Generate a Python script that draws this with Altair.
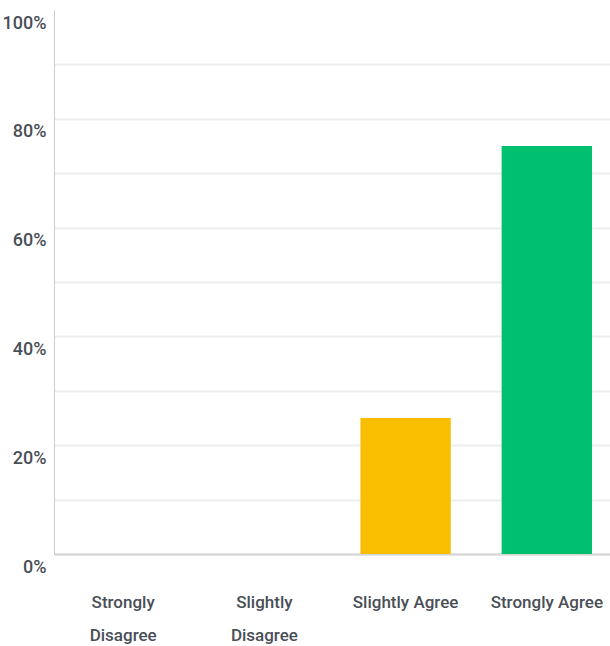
import altair as alt
import pandas as pd

# Survey response categories and share of respondents (percent)
categories = ["Strongly Disagree", "Slightly Disagree", "Slightly Agree", "Strongly Agree"]
shares = [0, 0, 25, 75]
colors = ["#E05A4F", "#F28A3B", "#F9BE00", "#00BF6F"]

# Gridlines every 10% (none at the top edge), labels every 20%
y_ticks = list(range(0, 101, 10))

df = pd.DataFrame({"category": categories, "share": shares})

label_font = "Roboto, sans-serif"
label_color = "#4a4f57"

chart = (
    alt.Chart(df)
    .mark_bar()
    .encode(
        x=alt.X(
            "category:N",
            sort=categories,
            scale=alt.Scale(paddingInner=0.36, paddingOuter=0.17, range=[0, 562]),
            axis=alt.Axis(
                title=None,
                labelAngle=0,
                labelExpr="length(datum.label) > 15 ? split(datum.label, ' ') : datum.label",
                labelFont=label_font,
                labelFontSize=17,
                labelFontWeight=500,
                labelColor=label_color,
                labelPadding=40,
                labelLineHeight=33,
                labelBaseline="top",
                ticks=False,
                domainColor="#d4d4d4",
                domainWidth=2,
            ),
        ),
        y=alt.Y(
            "share:Q",
            scale=alt.Scale(domain=[0, 100], nice=False),
            axis=alt.Axis(
                title=None,
                values=y_ticks,
                labelExpr="datum.value % 20 == 0 ? datum.value + '%' : ''",
                labelFont=label_font,
                labelFontSize=18,
                labelFontWeight=500,
                labelColor=label_color,
                labelPadding=8,
                labelOffset=13,
                labelBaseline="middle",
                ticks=False,
                domainColor="#cccccc",
                domainWidth=1,
                gridColor="#eeeeee",
                gridOpacity={
                    "condition": {"test": "datum.value >= 100", "value": 0},
                    "value": 1,
                },
                gridWidth=2,
            ),
        ),
        color=alt.Color(
            "category:N",
            sort=categories,
            scale=alt.Scale(domain=categories, range=colors),
            legend=None,
        ),
    )
    .properties(
        width=556,
        height=544,
        padding={"left": 54, "top": 10, "right": 0, "bottom": 92},
        autosize=alt.AutoSizeParams(type="none"),
        background="white",
    )
    .configure_view(stroke=None)
)

chart.save("out.html", embed_options={"renderer": "svg", "actions": False})
